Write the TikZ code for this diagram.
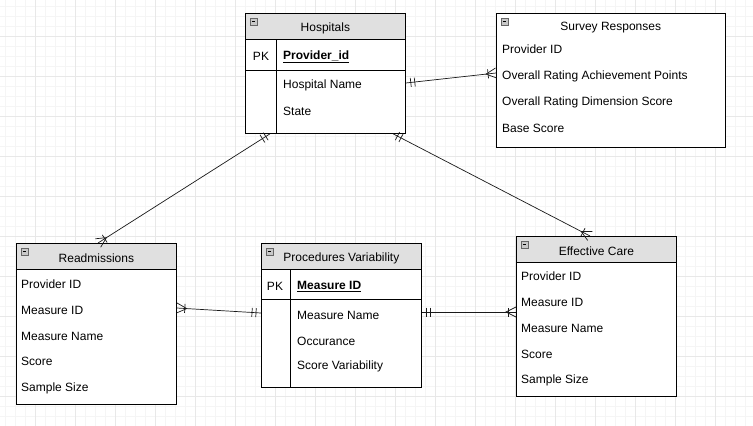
\documentclass[tikz,border=0pt]{standalone}
\usepackage{fontspec}
\setmainfont{Liberation Sans}
\usetikzlibrary{calc}
\definecolor{hdrgray}{HTML}{E0E0E0}
\definecolor{gridmin}{HTML}{F5F5F5}
\definecolor{gridmaj}{HTML}{E8E8E8}
\definecolor{icongray}{HTML}{C8C8C8}
\newcommand\ermandone[2]{%
  \draw[conn] ($(#1)!5pt!(#2)!4.5pt!90:(#2)$) -- ($(#1)!5pt!(#2)!4.5pt!-90:(#2)$);
  \draw[conn] ($(#1)!9pt!(#2)!4.5pt!90:(#2)$) -- ($(#1)!9pt!(#2)!4.5pt!-90:(#2)$);}
\newcommand\eronemany[2]{%
  \draw[conn] ($(#1)!5pt!90:(#2)$) -- ($(#1)!10pt!(#2)$) -- ($(#1)!5pt!-90:(#2)$);
  \draw[conn] ($(#1)!8pt!(#2)!4.5pt!90:(#2)$) -- ($(#1)!8pt!(#2)!4.5pt!-90:(#2)$);}
\newcommand\fs{\fontsize{12}{14}\selectfont}
\tikzset{
  ent/.style={draw=black, line width=0.8pt, fill=white, inner sep=0pt, anchor=north west},
  hdr/.style={draw=black, line width=0.8pt, fill=hdrgray, inner sep=0pt, anchor=north west,
    minimum height=26pt, label={[font=\fs, inner sep=0pt, yshift=-1.5pt]center:#1}},
  nohdr/.style={inner sep=0pt, anchor=north west, minimum height=26pt,
    label={[font=\fs, inner sep=0pt, yshift=-1.5pt]center:#1}},
  fld/.style={anchor=west, inner sep=0pt, font=\fs, yshift=-1.5pt},
  pk/.style={anchor=center, inner sep=0pt, font=\fs, yshift=-1.5pt},
  icon/.style={draw=gray!80!black, line width=0.5pt, fill=icongray, minimum size=7pt, inner sep=0pt,
    path picture={\draw[black, line width=0.6pt] ([xshift=1.8pt]path picture bounding box.west) -- ([xshift=-1.8pt]path picture bounding box.east);}},
  conn/.style={draw=black!90, line width=0.7pt},
  sep/.style={draw=black, line width=0.8pt},
}
\begin{document}
\begin{tikzpicture}[x=1pt, y=-1pt]
\useasboundingbox (0,0) rectangle (753,426);
\fill[white] (0,0) rectangle (753,426);
% grid
\foreach \i in {0,...,75} { \draw[gridmin, line width=0.6pt] (5+10*\i,0) -- (5+10*\i,426); }
\foreach \i in {0,...,42} { \draw[gridmin, line width=0.6pt] (0,6+10*\i) -- (753,6+10*\i); }
\foreach \i in {0,...,18} { \draw[gridmaj, line width=0.6pt] (35+40*\i,0) -- (35+40*\i,426); }
\foreach \i in {0,...,10} { \draw[gridmaj, line width=0.6pt] (0,36+40*\i) -- (753,36+40*\i); }

% Hospitals
\node[ent, minimum width=160pt, minimum height=120pt] (hosp) at (245,13) {};
\node[hdr=Hospitals, minimum width=160pt] (hosph) at (245,13) {};
\node[icon] (hospi) at ($(hosp.north west)+(8.5,8.5)$) {};
\draw[sep] ($(hosp.north west)+(0,57)$) -- ($(hosp.north east)+(0,57)$);
\draw[sep] ($(hosp.north west)+(31,26)$) -- ($(hosp.south west)+(31,0)$);
\node[pk] (hpk) at (261,55) {PK};
\node[fld] (hf1) at (283,55) {\underline{\textbf{Provider\_id}}};
\node[fld] (hf2) at (283,84) {Hospital Name};
\node[fld] (hf3) at (283,110) {State};

% Survey Responses
\node[ent, minimum width=229pt, minimum height=134pt] (surv) at (496,13) {};
\node[nohdr=Survey Responses, minimum width=229pt] (survh) at (496,13) {};
\node[icon] (survi) at ($(surv.north west)+(8.5,8.5)$) {};
\node[fld] (sf1) at (502,48) {Provider ID};
\node[fld] (sf2) at (502,75) {Overall Rating Achievement Points};
\node[fld] (sf3) at (502,101) {Overall Rating Dimension Score};
\node[fld] (sf4) at (502,127) {Base Score};

% Readmissions
\node[ent, minimum width=160pt, minimum height=161pt] (readm) at (16,243) {};
\node[hdr=Readmissions, minimum width=160pt] (readmh) at (16,243) {};
\node[icon] (readmi) at ($(readm.north west)+(8.5,8.5)$) {};
\node[fld] (rf1) at (21,283) {Provider ID};
\node[fld] (rf2) at (21,309) {Measure ID};
\node[fld] (rf3) at (21,335) {Measure Name};
\node[fld] (rf4) at (21,360) {Score};
\node[fld] (rf5) at (21,387) {Sample Size};

% Procedures Variability
\node[ent, minimum width=160pt, minimum height=144pt] (proc) at (261,243) {};
\node[hdr=Procedures Variability, minimum width=160pt] (proch) at (261,243) {};
\node[icon] (proci) at ($(proc.north west)+(8.5,8.5)$) {};
\draw[sep] ($(proc.north west)+(0,56)$) -- ($(proc.north east)+(0,56)$);
\draw[sep] ($(proc.north west)+(29,26)$) -- ($(proc.south west)+(29,0)$);
\node[pk] (ppk) at (275,285) {PK};
\node[fld] (pf1) at (297,285) {\underline{\textbf{Measure ID}}};
\node[fld] (pf2) at (297,314) {Measure Name};
\node[fld] (pf3) at (297,340) {Occurance};
\node[fld] (pf4) at (297,365) {Score Variability};

% Effective Care
\node[ent, minimum width=160pt, minimum height=160pt] (eff) at (516,236) {};
\node[hdr=Effective Care, minimum width=160pt] (effh) at (516,236) {};
\node[icon] (effi) at ($(eff.north west)+(8.5,8.5)$) {};
\node[fld] (ef1) at (521,275) {Provider ID};
\node[fld] (ef2) at (521,301) {Measure ID};
\node[fld] (ef3) at (521,327) {Measure Name};
\node[fld] (ef4) at (521,353) {Score};
\node[fld] (ef5) at (521,379) {Sample Size};

% connector end points
\coordinate (c1a) at ($(hosp.north east)+(0,70)$);
\coordinate (c1b) at ($(surv.north west)+(0,60)$);
\coordinate (c2a) at ($(hosp.south west)+(25,0)$);
\coordinate (c2b) at ($(readm.north west)+(82,0)$);
\coordinate (c3a) at ($(hosp.south west)+(148,0)$);
\coordinate (c3b) at ($(eff.north west)+(74,0)$);
\coordinate (c4a) at ($(readm.north east)+(0,65)$);
\coordinate (c4b) at ($(proc.north west)+(0,70)$);
\coordinate (c5a) at ($(proc.north east)+(0,69)$);
\coordinate (c5b) at ($(eff.north west)+(0,76)$);

\draw[conn] (c1a) -- (c1b);
\ermandone{c1a}{c1b}
\eronemany{c1b}{c1a}

\draw[conn] (c2a) -- (c2b);
\ermandone{c2a}{c2b}
\eronemany{c2b}{c2a}

\draw[conn] (c3a) -- (c3b);
\ermandone{c3a}{c3b}
\eronemany{c3b}{c3a}

\draw[conn] (c4a) -- (c4b);
\eronemany{c4a}{c4b}
\ermandone{c4b}{c4a}

\draw[conn] (c5a) -- (c5b);
\ermandone{c5a}{c5b}
\eronemany{c5b}{c5a}
\end{tikzpicture}
\end{document}
